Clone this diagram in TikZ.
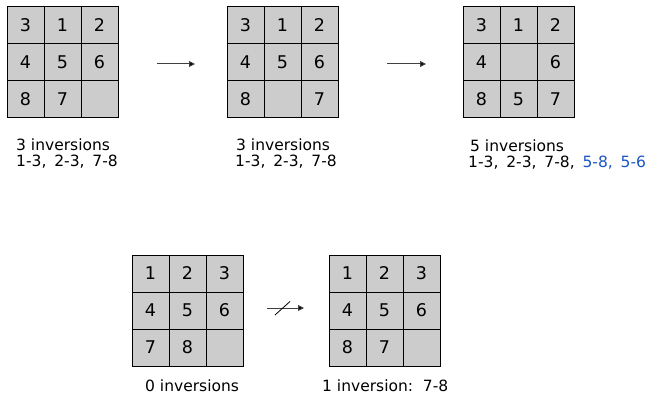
\documentclass[tikz,border=0pt]{standalone}
\usepackage{fontspec}
\setmainfont{DejaVu Sans}
\newfontfamily\listfont[WordSpace=1.6]{DejaVu Sans}
\usetikzlibrary{arrows.meta}
\definecolor{cellgray}{RGB}{204,204,204}
\definecolor{invblue}{RGB}{25,85,195}
\newcommand\puzzle[4]{%
  \foreach \v [count=\i from 0] in {#4} {
    \pgfmathtruncatemacro\rr{int(\i/3)}
    \pgfmathtruncatemacro\cc{\i-3*\rr}
    \node[cell] (#1-\i) at ({#2+18.5+37*\cc},{#3+18.5+37*\rr}) {\v};
  }%
}
\begin{document}
\begin{tikzpicture}[x=1pt,y=-1pt,
  cell/.style={draw=black,line width=1pt,fill=cellgray,minimum size=37pt,inner sep=0pt,font=\fontsize{17.5}{17}\selectfont},
  lbl/.style={anchor=base west,inner sep=0pt,font=\fontsize{15.5}{16}\selectfont},
  lst/.style={anchor=base west,inner sep=0pt,font=\listfont\fontsize{15.5}{16}\selectfont},
  arr/.style={draw=black!75,line width=1pt,-{Triangle[length=6pt,width=6pt,fill=black]}}]
\useasboundingbox (0,0) rectangle (647,395);
\puzzle{p1}{7}{7}{3,1,2,4,5,6,8,7,{}}
\puzzle{p2}{227}{7}{3,1,2,4,5,6,8,{},7}
\puzzle{p3}{463}{7}{3,1,2,4,{},6,8,5,7}
\puzzle{p4}{132}{255}{1,2,3,4,5,6,7,8,{}}
\puzzle{p5}{329}{255}{1,2,3,4,5,6,8,7,{}}
\coordinate (a1s) at (157,64); \coordinate (a1e) at (195,64);
\coordinate (a2s) at (387,64); \coordinate (a2e) at (426,64);
\coordinate (a3s) at (267,308); \coordinate (a3e) at (304,308);
\coordinate (x1) at (275,315); \coordinate (x2) at (290,301.5);
\draw[arr] (a1s) -- (a1e);
\draw[arr] (a2s) -- (a2e);
\draw[arr] (a3s) -- (a3e);
\draw[line width=0.8pt] (x1) -- (x2);
\node[lbl] (l1a) at (16,151) {3 inversions};
\node[lst] (l1b) at (16,167) {1-3, 2-3, 7-8};
\node[lbl] (l2a) at (236,151) {3 inversions};
\node[lst] (l2b) at (235,167) {1-3, 2-3, 7-8};
\node[lbl] (l3a) at (470,151.5) {5 inversions};
\node[lst] (l3b) at (468,168) {1-3, 2-3, 7-8, \textcolor{invblue}{5-8, 5-6}};
\node[lbl] (l4) at (145,391) {0 inversions};
\node[lbl] (l5) at (322,391) {1 inversion:\ \ 7-8};
\end{tikzpicture}
\end{document}
